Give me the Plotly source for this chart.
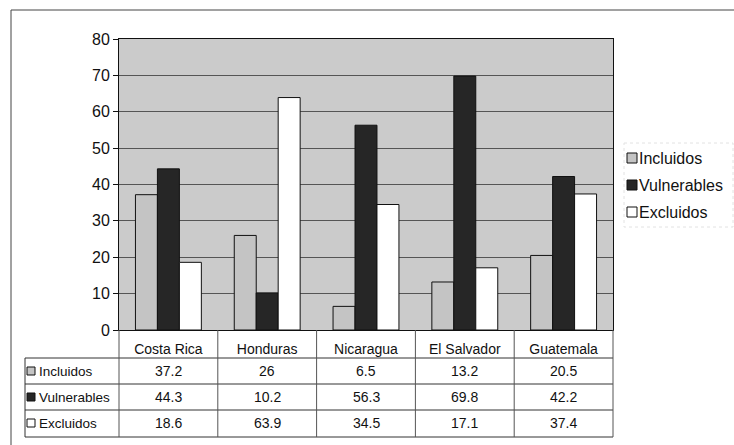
import plotly.graph_objects as go

categories = ["Costa Rica", "Honduras", "Nicaragua", "El Salvador", "Guatemala"]
series_names = ["Incluidos", "Vulnerables", "Excluidos"]
incluidos = [37.2, 26, 6.5, 13.2, 20.5]
vulnerables = [44.3, 10.2, 56.3, 69.8, 42.2]
excluidos = [18.6, 63.9, 34.5, 17.1, 37.4]
table_labels = [["37.2", "26", "6.5", "13.2", "20.5"],
                ["44.3", "10.2", "56.3", "69.8", "42.2"],
                ["18.6", "63.9", "34.5", "17.1", "37.4"]]
y_ticks = [0, 10, 20, 30, 40, 50, 60, 70, 80]

colors = ["#c4c4c4", "#262626", "#ffffff"]
FONT = "Arial, Liberation Sans, sans-serif"

W, H = 734, 445
L, R, T, B = 119, 613, 39, 330
pw, ph = R - L, B - T

def px(x):
    return (x - L) / pw

def py(y):
    return (B - y) / ph

fig = go.Figure()
values = [incluidos, vulnerables, excluidos]
for name, vals, c in zip(series_names, values, colors):
    fig.add_trace(go.Bar(
        name=name, x=categories, y=vals,
        marker=dict(color=c, line=dict(color="#111111", width=1)),
        showlegend=False,
    ))

shapes = []
# outer border (top and left)
shapes.append(dict(type="line", xref="paper", yref="paper", x0=px(11), x1=px(734), y0=py(10), y1=py(10),
                   line=dict(color="#444444", width=1)))
shapes.append(dict(type="line", xref="paper", yref="paper", x0=px(11), x1=px(11), y0=py(10), y1=py(445),
                   line=dict(color="#444444", width=1)))
# table horizontal lines
for yy in [358, 384, 410, 437]:
    shapes.append(dict(type="line", xref="paper", yref="paper", x0=px(25), x1=1, y0=py(yy), y1=py(yy),
                       line=dict(color="#333333", width=1)))
# column lines
n = len(categories)
for i in range(n + 1):
    shapes.append(dict(type="line", xref="paper", yref="paper", x0=i / n, x1=i / n, y0=0, y1=py(437),
                       line=dict(color="#555555", width=1)))
shapes.append(dict(type="line", xref="paper", yref="paper", x0=px(25), x1=px(25), y0=py(358), y1=py(437),
                   line=dict(color="#333333", width=1)))
# faint legend box
shapes.append(dict(type="rect", xref="paper", yref="paper", x0=px(624), x1=px(733), y0=py(143), y1=py(227),
                   line=dict(color="#e2e2e2", width=1, dash="dot"), fillcolor="rgba(0,0,0,0)"))

annotations = []
row_centers = [371, 397, 423]
legend_centers = [158, 185, 212]
for r, (name, labels, c) in enumerate(zip(series_names, table_labels, colors)):
    yc = py(row_centers[r])
    shapes.append(dict(type="rect", xref="paper", yref="paper", x0=px(27), x1=px(35),
                       y0=yc - 4 / ph, y1=yc + 4 / ph,
                       fillcolor=c, line=dict(color="#111111", width=1)))
    annotations.append(dict(xref="paper", yref="paper", x=px(37), y=yc, text=name, showarrow=False,
                            xanchor="left", yanchor="middle",
                            font=dict(size=13.5, color="#111111", family=FONT)))
    for i, lab in enumerate(labels):
        annotations.append(dict(xref="x", yref="paper", x=categories[i], y=yc, text=lab, showarrow=False,
                                xanchor="center", yanchor="middle",
                                font=dict(size=14, color="#111111", family=FONT)))
    # legend entry
    yl = py(legend_centers[r])
    shapes.append(dict(type="rect", xref="paper", yref="paper", x0=px(627), x1=px(637),
                       y0=yl - 5 / ph, y1=yl + 5 / ph,
                       fillcolor=c, line=dict(color="#111111", width=1)))
    annotations.append(dict(xref="paper", yref="paper", x=px(637), y=yl, text=name, showarrow=False,
                            xanchor="left", yanchor="middle",
                            font=dict(size=16, color="#111111", family=FONT)))

fig.update_layout(
    width=W, height=H,
    margin=dict(l=L, r=W - R, t=T, b=H - B),
    paper_bgcolor="white",
    plot_bgcolor="#cbcbcb",
    barmode="group",
    bargap=0.333,
    bargroupgap=0,
    font=dict(family=FONT, color="#111111"),
    showlegend=False,
    shapes=shapes,
    annotations=annotations,
)
fig.update_xaxes(
    showline=True, linecolor="#111111", linewidth=1, mirror=True,
    tickfont=dict(size=14, family=FONT, color="#111111"),
    ticks="", ticklabelstandoff=6,
)
fig.update_yaxes(
    range=[0, 80], tickvals=y_ticks, showgrid=True, gridcolor="#555555", gridwidth=1,
    showline=True, linecolor="#111111", linewidth=1, mirror=True,
    ticks="outside", ticklen=5, tickcolor="#111111",
    tickfont=dict(size=16, family=FONT, color="#111111"),
    zeroline=False,
)
fig.write_html("out.html", config={"displayModeBar": False},
               post_script="document.body.style.margin='0';")
